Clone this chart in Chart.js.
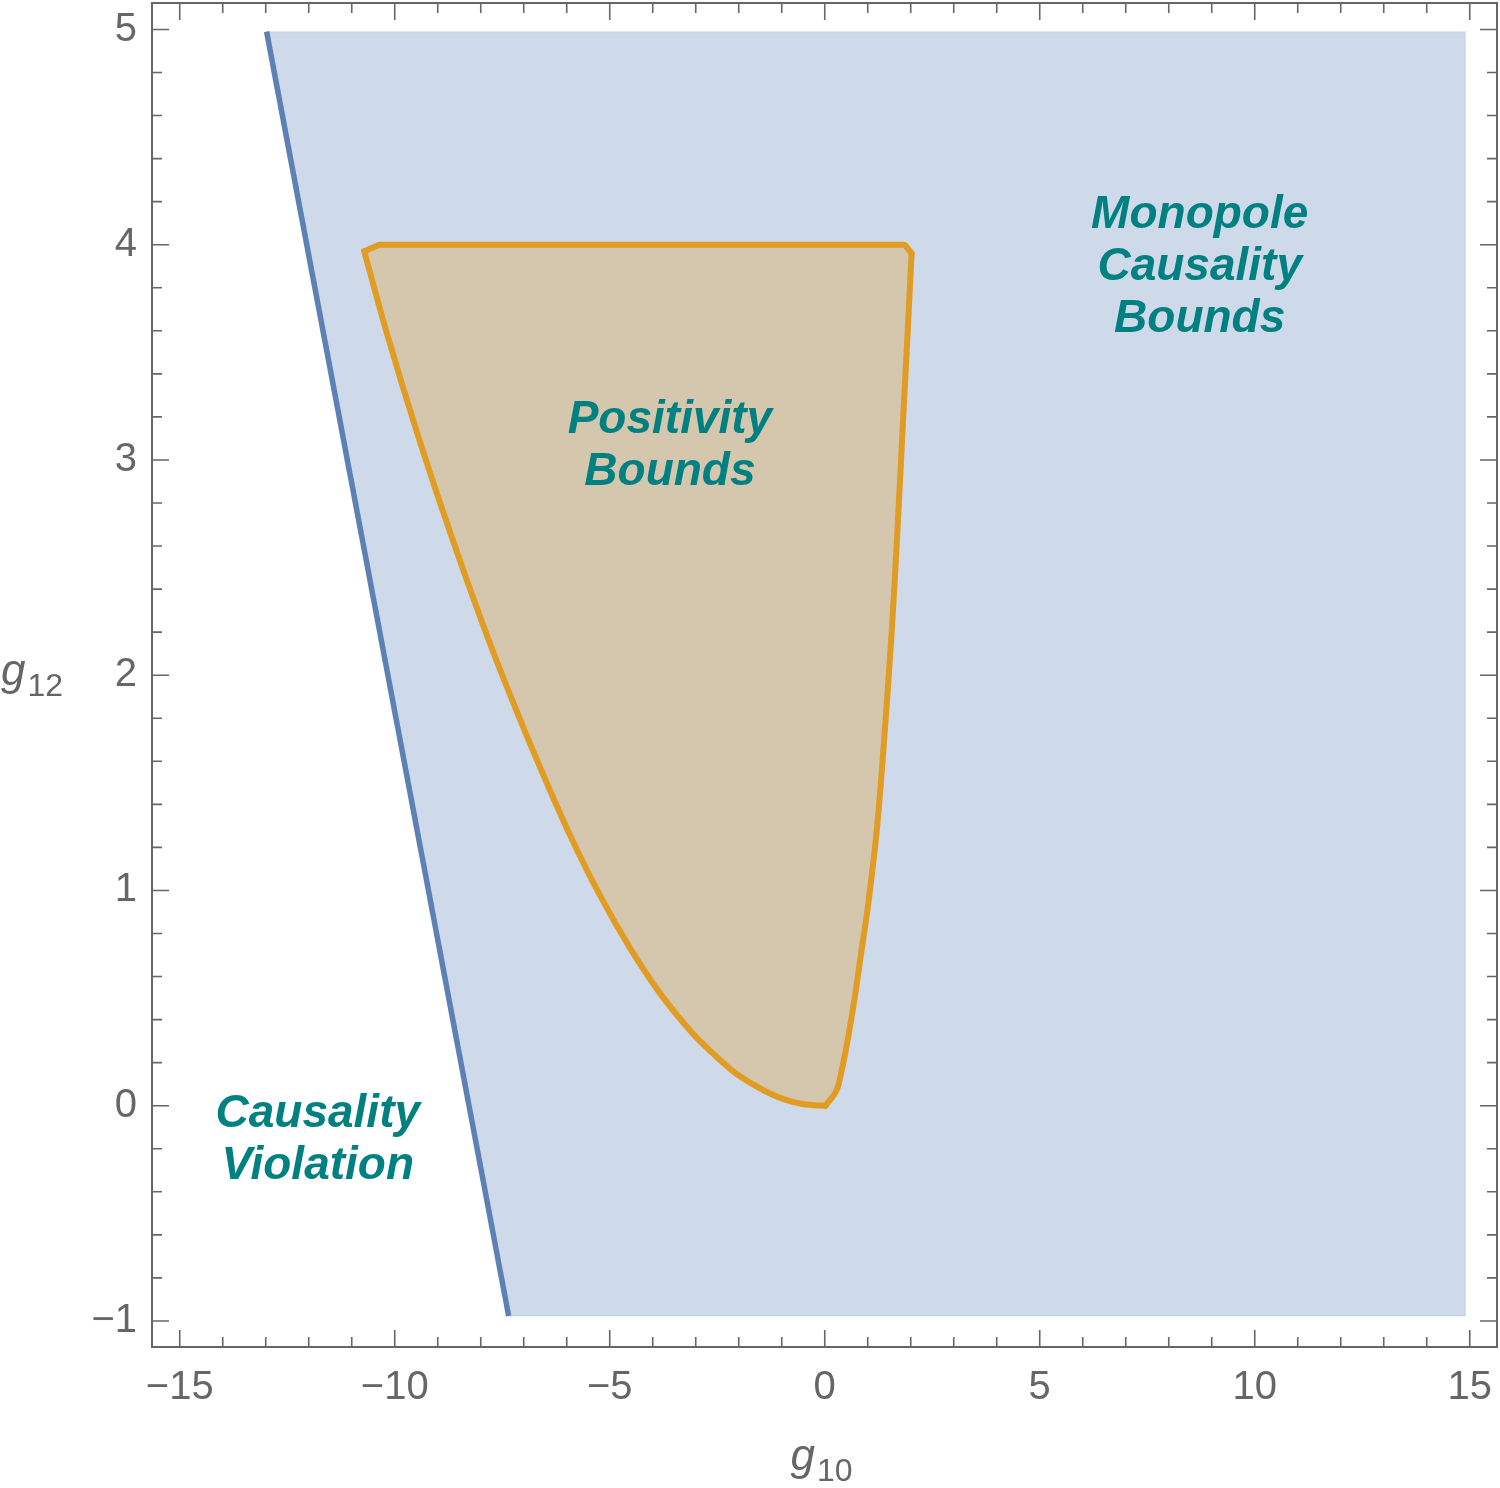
<!DOCTYPE html>
<html>
<head>
<meta charset="utf-8">
<script src="https://cdn.jsdelivr.net/npm/chart.js@4.4.0/dist/chart.umd.min.js"></script>
<style>
    html, body { margin: 0; padding: 0; background: #fff; }
    #wrap { width: 1500px; height: 1488px; }
</style>
</head>
<body>
<div id="wrap"><canvas id="grafica" width="1500" height="1488"></canvas></div>
<script>
// Axis ticks and ranges
const xTicks = [-15, -10, -5, 0, 5, 10, 15];
const yTicks = [-1, 0, 1, 2, 3, 4, 5];
const xRange = [-15.645, 15.634];
const yRange = [-1.121, 5.123];

// Monopole causality region (filled polygon)
const monoG10 = [-12.98, 14.9, 14.9, -7.35];
const monoG12 = [4.99, 4.99, -0.977, -0.977];

// Causality boundary (thick blue edge)
const edgeG10 = [-12.98, -7.35];
const edgeG12 = [4.99, -0.977];

// Positivity bounds region (closed outline, clockwise from the top-left corner)
const posG10 = [-10.36, 1.86, 2.02, 1.93, 1.81, 1.69, 1.56, 1.4, 1.22, 1.02, 0.84, 0.68, 0.52, 0.39, 0.27, 0.02,
    -0.25, -0.58, -0.9, -1.2, -1.65, -2.13, -2.6, -3.06, -3.83, -4.53, -5.23, -5.92, -6.62, -7.28,
    -7.94, -8.74, -9.47, -10.17, -10.71, -10.36];
const posG12 = [4.0, 4.0, 3.96, 3.6, 3.14, 2.67, 2.21, 1.75, 1.3, 0.95, 0.7, 0.48, 0.29, 0.16, 0.07, 0.0,
    0.002, 0.01, 0.027, 0.05, 0.097, 0.16, 0.243, 0.333, 0.522, 0.733, 0.978, 1.255, 1.572, 1.89,
    2.23, 2.68, 3.12, 3.58, 3.97, 4.0];

// Region labels: text lines and anchor in data coordinates
const labelLines = [["Monopole", "Causality", "Bounds"], ["Positivity", "Bounds"], ["Causality", "Violation"]];
const labelG10 = [8.72, -3.6, -11.79];
const labelG12 = [3.895, 3.065, -0.162];

const teal = "#008080";
const axisGray = "#666666";
const orange = "#E19C24";

function toPoints(xs, ys) {
    return xs.map((v, i) => ({ x: v, y: ys[i] }));
}

// pick outline points by index (top edge, right curve, left curve)
function pickPoints(idx) {
    return idx.map(i => ({ x: posG10[i], y: posG12[i] }));
}

function range(a, b) {
    const out = [];
    for (let i = a; i <= b; i++) out.push(i);
    return out;
}

function formatTick(v) {
    return v < 0 ? "\u2212" + Math.abs(v) : String(v);
}

// Frame with inward ticks on all four sides
const frameTicks = {
    id: "frameTicks",
    afterDatasetsDraw(chart) {
        const { ctx, chartArea: a, scales: { x, y } } = chart;
        ctx.save();
        ctx.strokeStyle = axisGray;
        ctx.lineWidth = 1.6;
        ctx.beginPath();
        const x0 = xTicks[0], x1 = xTicks[xTicks.length - 1];
        for (let v = x0; v <= x1; v++) {
            const len = v % 5 === 0 ? 17 : 10;
            const px = x.getPixelForValue(v);
            ctx.moveTo(px, a.bottom); ctx.lineTo(px, a.bottom - len);
            ctx.moveTo(px, a.top); ctx.lineTo(px, a.top + len);
        }
        const y0 = yTicks[0], y1 = yTicks[yTicks.length - 1];
        for (let i = y0 * 5; i <= y1 * 5; i++) {
            const len = i % 5 === 0 ? 17 : 10;
            const py = y.getPixelForValue(i / 5);
            ctx.moveTo(a.left, py); ctx.lineTo(a.left + len, py);
            ctx.moveTo(a.right, py); ctx.lineTo(a.right - len, py);
        }
        ctx.stroke();
        ctx.lineWidth = 2;
        ctx.strokeRect(a.left, a.top, a.right - a.left, a.bottom - a.top);
        ctx.restore();
    }
};

// Region labels and axis titles
const chartTexts = {
    id: "chartTexts",
    afterDraw(chart) {
        const { ctx, chartArea: a, scales: { x, y } } = chart;
        ctx.save();
        ctx.fillStyle = teal;
        ctx.font = "italic bold 46px 'Liberation Sans', Arial, sans-serif";
        ctx.textAlign = "center";
        ctx.textBaseline = "middle";
        const lh = 52;
        labelLines.forEach((lines, k) => {
            const cx = x.getPixelForValue(labelG10[k]);
            const cy = y.getPixelForValue(labelG12[k]);
            const start = cy - (lines.length - 1) * lh / 2;
            lines.forEach((t, j) => ctx.fillText(t, cx, start + j * lh));
        });

        ctx.fillStyle = axisGray;
        ctx.textAlign = "left";
        ctx.textBaseline = "alphabetic";
        const drawTitle = (sx, base, sub) => {
            ctx.font = "italic 44px 'Liberation Sans', Arial, sans-serif";
            ctx.fillText("g", sx, base);
            const w = ctx.measureText("g").width;
            ctx.font = "32px 'Liberation Sans', Arial, sans-serif";
            ctx.fillText(sub, sx + w + 2, base + 11);
        };
        drawTitle((a.left + a.right) / 2 - 34, 1470, "10");
        drawTitle(1, (a.top + a.bottom) / 2 + 10, "12");
        ctx.restore();
    }
};

const last = posG10.length - 1;
const edgeStyle = { borderColor: orange, borderWidth: 6, fill: false, pointRadius: 0, borderCapStyle: "round", borderJoinStyle: "bevel" };

const ctxGrafica = document.getElementById("grafica").getContext("2d");

const grafica = new Chart(ctxGrafica, {
    type: "line",
    data: {
        datasets: [
            { label: "Positivity top", data: pickPoints([last - 1, 0, 1, 2]), tension: 0, ...edgeStyle },
            { label: "Positivity right", data: pickPoints(range(2, 15)), tension: 0.35, ...edgeStyle },
            { label: "Positivity left", data: pickPoints(range(15, last - 1)), tension: 0.35, ...edgeStyle },
            {
                label: "Positivity Bounds",
                data: toPoints(posG10, posG12),
                borderColor: "rgba(0, 0, 0, 0)",
                borderWidth: 1,
                backgroundColor: "rgba(225, 156, 36, 0.3)",
                fill: "shape",
                pointRadius: 0,
                tension: 0
            },
            {
                label: "Causality edge",
                data: toPoints(edgeG10, edgeG12),
                borderColor: "#5E81B5",
                borderWidth: 5.5,
                fill: false,
                pointRadius: 0,
                tension: 0
            },
            {
                label: "Monopole Causality Bounds",
                data: toPoints(monoG10, monoG12),
                borderColor: "rgba(94, 129, 181, 0.12)",
                borderWidth: 1.5,
                backgroundColor: "rgba(94, 129, 181, 0.3)",
                fill: "shape",
                pointRadius: 0,
                tension: 0
            }
        ]
    },
    options: {
        responsive: false,
        animation: false,
        devicePixelRatio: 1,
        layout: { padding: { left: 0, right: 3, top: 3, bottom: 0 } },
        plugins: {
            legend: { display: false },
            tooltip: { enabled: false }
        },
        scales: {
            x: {
                type: "linear",
                min: xRange[0],
                max: xRange[1],
                afterBuildTicks: (scale) => { scale.ticks = xTicks.map(v => ({ value: v })); },
                afterFit: (scale) => { scale.height = 141; scale.paddingLeft = 0; scale.paddingRight = 0; },
                grid: { display: false, drawTicks: false },
                border: { display: false },
                ticks: {
                    color: axisGray,
                    font: { family: "'Liberation Sans', Arial, sans-serif", size: 40 },
                    padding: 17,
                    maxRotation: 0,
                    autoSkip: false,
                    callback: formatTick
                }
            },
            y: {
                type: "linear",
                min: yRange[0],
                max: yRange[1],
                afterBuildTicks: (scale) => { scale.ticks = yTicks.map(v => ({ value: v })); },
                afterFit: (scale) => { scale.width = 152; scale.paddingTop = 0; scale.paddingBottom = 0; },
                grid: { display: false, drawTicks: false },
                border: { display: false },
                ticks: {
                    color: axisGray,
                    font: { family: "'Liberation Sans', Arial, sans-serif", size: 40 },
                    padding: 15,
                    autoSkip: false,
                    callback: formatTick
                }
            }
        }
    },
    plugins: [frameTicks, chartTexts]
});
</script>
</body>
</html>
